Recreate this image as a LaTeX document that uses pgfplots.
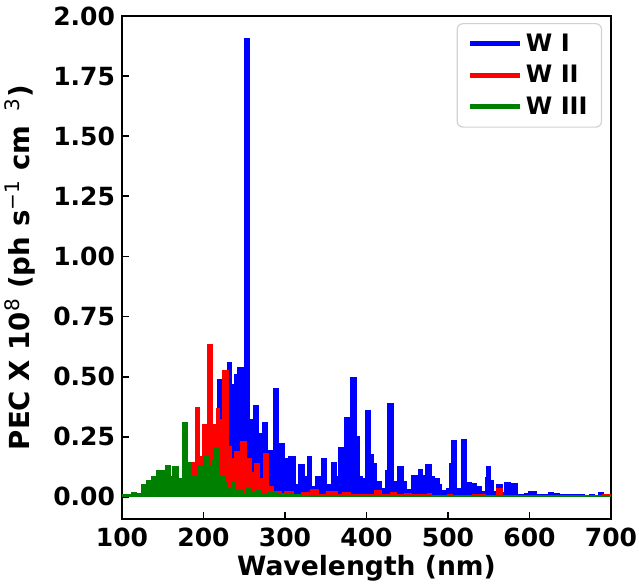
\documentclass[border=0pt]{standalone}
\usepackage{fontspec}
\setmainfont{DejaVu Sans}
\usepackage{pgfplots}
\pgfplotsset{compat=1.18}

% emission spectra, one filled step curve per ion
\pgfplotstableread{
x y
217 0.49
223 0.45
229.6 0.56
234.5 0.466
238.6 0.51
241.9 0.54
250 1.905
257 0.32
261 0.38
267.3 0.265
272.6 0.31
278.3 0.195
285.7 0.45
292.6 0.22
298.8 0.16
304.1 0.168
312.3 0.05
316.3 0.133
323.7 0.085
327.8 0.17
332.7 0.043
338 0.085
344.2 0.16
351.1 0.05
357.3 0.143
362.6 0.085
365.5 0.207
372.8 0.33
380.6 0.497
388 0.25
390.8 0.085
394.9 0.078
398.2 0.36
404.3 0.175
408.4 0.14
412.5 0.064
418.6 0.036
422.7 0.11
426 0.39
432.9 0.064
437.9 0.126
445.2 0.064
449.3 0.032
455.4 0.09
463.6 0.115
468.5 0.09
472.6 0.136
480 0.085
484 0.078
489 0.05
492.2 0.025
498.3 0.033
502.4 0.14
504.5 0.233
510.6 0.036
516.7 0.237
522.9 0.06
529 0.057
535.1 0.043
541.3 0.022
545.4 0.08
547.4 0.126
552.7 0.07
555.6 0.022
559.7 0.05
566.6 0.018
569.9 0.061
577.3 0.054
585 0.008
594.4 0.015
599.3 0.021
608.8 0.011
613 0.008
623 0.019
629.2 0.014
637.4 0.01
649.6 0.01
668 0.005
674.2 0.008
680.3 0.006
684.4 0.018
690.5 0.011
696.7 0.004
700 0.004
}\wone

\pgfplotstableread{
x y
183 0.145
189.6 0.37
195.7 0.17
199 0.30
204.7 0.635
211.2 0.30
216.2 0.366
220 0.32
223 0.525
230.5 0.21
234.5 0.16
238.6 0.19
244.8 0.23
253 0.16
259 0.10
262 0.14
269 0.078
273.4 0.18
279.5 0.043
285.7 0.022
296 0.015
300 0.022
310 0.012
320 0.02
330.7 0.03
341 0.01
351 0.022
365 0.01
371 0.02
380 0.008
390 0.012
410 0.026
419 0.01
429 0.02
437 0.008
447 0.015
455 0.01
460 0.012
470 0.008
475 0.014
480 0.006
500 0.01
505 0.006
530 0.008
541 0.012
546 0.005
560 0.033
567 0.006
580 0.004
600 0.006
640 0.004
690 0.008
700 0.008
}\wtwo

\pgfplotstableread{
x y
100 0.01
112 0.018
118 0.014
124 0.05
130 0.07
136 0.083
142 0.11
153 0.13
159 0.086
162 0.125
169 0.076
174.5 0.31
180.5 0.145
185.5 0.09
193.5 0.125
199.5 0.17
206 0.13
210 0.15
214 0.2
218 0.09
226 0.065
230 0.04
234 0.06
238 0.025
249 0.015
253 0.036
259 0.02
265 0.025
270 0.015
280 0.02
290 0.012
300 0.008
320 0.005
700 0.005
}\wthree

\newcommand{\sups}[1]{\textsuperscript{\fontsize{10}{10}\selectfont\mdseries #1}}

\begin{document}
\begin{tikzpicture}
\begin{axis}[
    scale only axis,
    width=244.5pt, height=251.5pt,
    xmin=100, xmax=700,
    ymin=-0.092, ymax=2.0,
    xtick={100,200,...,700},
    ytick={0,0.25,...,2.0},
    yticklabel style={/pgf/number format/.cd, fixed, fixed zerofill, precision=2},
    xticklabel style={yshift=-1pt},
    /pgf/number format/assume math mode=true,
    tick label style={font=\fontsize{12.5}{15}\selectfont\bfseries},
    xlabel style={font=\fontsize{13.3}{16}\selectfont\bfseries, yshift=2.5pt},
    ylabel style={font=\fontsize{13.8}{16}\selectfont\bfseries, yshift=2pt},
    xlabel={Wavelength (nm)},
    ylabel={PEC X 10\sups{8} (ph s\sups{−1} cm \,\sups{3})},
    tick align=inside,
    xtick pos=left, ytick pos=left,
    major tick length=3.5pt,
    every tick/.style={black, line width=0.9pt},
    axis line style={line width=1.1pt},
    legend style={
        at={(0.982,0.986)}, anchor=north east,
        draw=gray!35, rounded corners=3pt, line width=0.6pt,
        font=\fontsize{12}{14}\selectfont\bfseries,
        row sep=1.5pt, inner xsep=5pt, inner ysep=3pt,
        cells={anchor=west},
        /tikz/every even column/.append style={column sep=2pt},
    },
    legend image code/.code={\draw[#1, fill=none, line width=2.4pt] (0pt,0pt) -- (25pt,0pt);},
]
\addplot[const plot mark left, fill=blue, draw=blue, line width=0.5pt] table[x=x, y=y] {\wone} \closedcycle;
\addplot[const plot mark left, fill=red, draw=red, line width=0.5pt] table[x=x, y=y] {\wtwo} \closedcycle;
\addplot[const plot mark left, fill=green!50!black, draw=green!50!black, line width=0.5pt] table[x=x, y=y] {\wthree} \closedcycle;
\legend{W I, W II, W III}
\end{axis}
\pgfresetboundingbox
\path[use as bounding box] ([xshift=-61pt,yshift=-32pt]current axis.south west) rectangle ([xshift=14pt,yshift=8pt]current axis.north east);
\end{tikzpicture}
\end{document}
